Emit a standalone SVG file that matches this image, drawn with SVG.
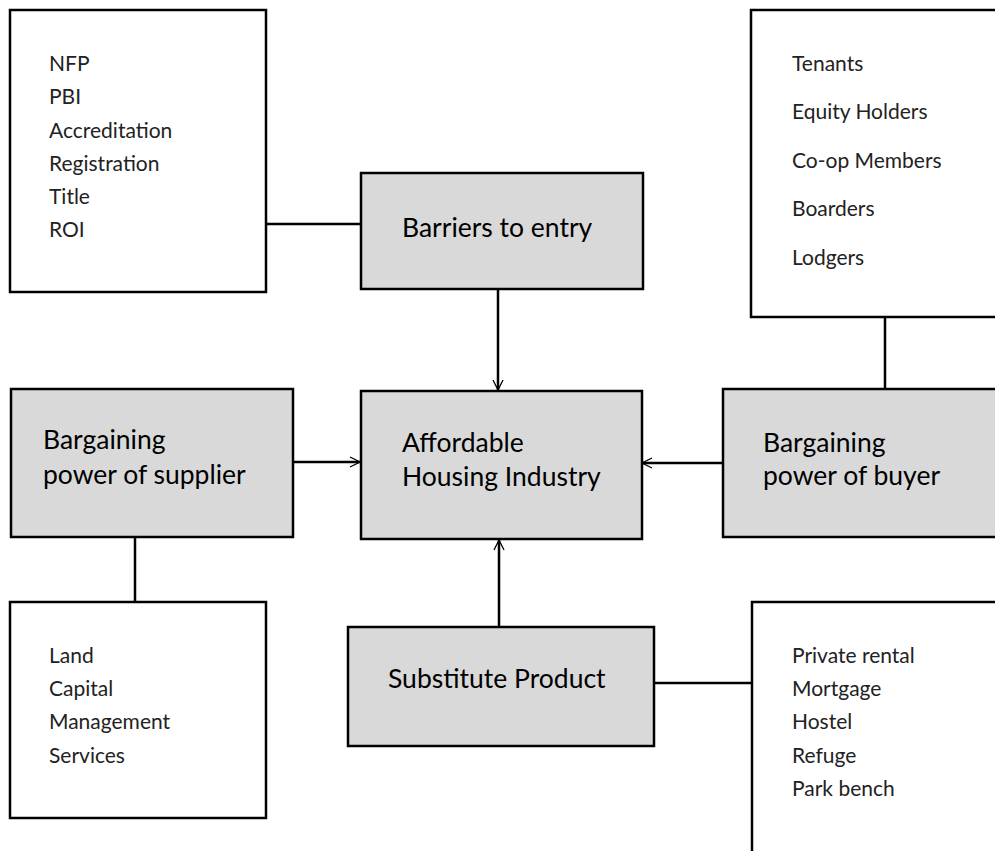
<svg xmlns="http://www.w3.org/2000/svg" width="995" height="851" viewBox="0 0 995 851">
  <defs>
    <style>
      .force { fill: #d9d9d9; stroke: #000; stroke-width: 2.5; }
      .list { fill: #fff; stroke: #000; stroke-width: 2.5; }
      .big { font-family: Lato, "Liberation Sans", sans-serif; font-size: 26.5px; fill: #000; }
      .small { font-family: Lato, "Liberation Sans", sans-serif; font-size: 21px; fill: #222; }
      .wire { stroke: #000; stroke-width: 2.5; fill: none; }
    </style>
    <marker id="open" viewBox="0 0 12 12" refX="11" refY="6" markerWidth="12" markerHeight="12" markerUnits="userSpaceOnUse" orient="auto">
      <path d="M1,1 L11,6 L1,11" fill="none" stroke="#000" stroke-width="1.3"/>
    </marker>
  </defs>
  <rect width="995" height="851" fill="#fff"/>

  <g id="connectors">
    <line class="wire" x1="266" y1="224" x2="361" y2="224"/>
    <line class="wire" x1="498" y1="289" x2="498" y2="390" marker-end="url(#open)"/>
    <line class="wire" x1="293" y1="462" x2="360" y2="462" marker-end="url(#open)"/>
    <line class="wire" x1="723" y1="463" x2="642" y2="463" marker-end="url(#open)"/>
    <line class="wire" x1="499" y1="627" x2="499" y2="540" marker-end="url(#open)"/>
    <line class="wire" x1="885" y1="317" x2="885" y2="389"/>
    <line class="wire" x1="135" y1="537" x2="135" y2="602"/>
    <line class="wire" x1="654" y1="683" x2="752" y2="683"/>
  </g>

  <g id="entry-barriers-list">
    <rect class="list" x="10" y="10" width="256" height="282"/>
    <text class="small" x="49" y="71">NFP</text>
    <text class="small" x="49" y="104">PBI</text>
    <text class="small" x="49" y="138">Accreditation</text>
    <text class="small" x="49" y="171">Registration</text>
    <text class="small" x="49" y="204">Title</text>
    <text class="small" x="49" y="237">ROI</text>
  </g>

  <g id="barriers">
    <rect class="force" x="361" y="173" width="282" height="116"/>
    <text class="big" x="402" y="237">Barriers to entry</text>
  </g>

  <g id="buyers-list">
    <rect class="list" x="751" y="10" width="260" height="307"/>
    <text class="small" x="792" y="71">Tenants</text>
    <text class="small" x="792" y="119">Equity Holders</text>
    <text class="small" x="792" y="168">Co-op Members</text>
    <text class="small" x="792" y="216">Boarders</text>
    <text class="small" x="792" y="265">Lodgers</text>
  </g>

  <g id="supplier">
    <rect class="force" x="11" y="389" width="282" height="148"/>
    <text class="big" x="43" y="449">Bargaining</text>
    <text class="big" x="43" y="484">power of supplier</text>
  </g>

  <g id="industry">
    <rect class="force" x="361" y="391" width="281" height="148"/>
    <text class="big" x="402" y="452">Affordable</text>
    <text class="big" x="402" y="486">Housing Industry</text>
  </g>

  <g id="buyer">
    <rect class="force" x="723" y="389" width="290" height="148"/>
    <text class="big" x="763" y="452">Bargaining</text>
    <text class="big" x="763" y="485">power of buyer</text>
  </g>

  <g id="suppliers-list">
    <rect class="list" x="10" y="602" width="256" height="216"/>
    <text class="small" x="49" y="663">Land</text>
    <text class="small" x="49" y="696">Capital</text>
    <text class="small" x="49" y="729">Management</text>
    <text class="small" x="49" y="763">Services</text>
  </g>

  <g id="substitute">
    <rect class="force" x="348" y="627" width="306" height="119"/>
    <text class="big" x="388" y="688">Substitute Product</text>
  </g>

  <g id="substitutes-list">
    <rect class="list" x="752" y="602" width="260" height="270"/>
    <text class="small" x="792" y="663">Private rental</text>
    <text class="small" x="792" y="696">Mortgage</text>
    <text class="small" x="792" y="729">Hostel</text>
    <text class="small" x="792" y="763">Refuge</text>
    <text class="small" x="792" y="796">Park bench</text>
  </g>
</svg>
